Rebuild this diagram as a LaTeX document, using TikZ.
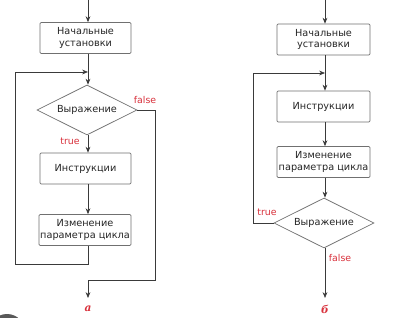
\documentclass[tikz,border=0pt]{standalone}
\usepackage{fontspec}
\setmainfont{DejaVu Sans}
\newfontfamily\serifcyr{DejaVu Serif}
\usetikzlibrary{shapes.geometric,arrows.meta}
\definecolor{lbl}{HTML}{D9313C}
\definecolor{ln}{HTML}{3A3A3A}
\definecolor{bx}{HTML}{707070}
\tikzset{
  every picture/.style={x=0.03cm,y=-0.03cm},
  box/.style={draw=bx,line width=0.6pt,rounded corners=1pt,minimum width=91*0.03cm,minimum height=31*0.03cm,inner sep=1pt,align=center,font=\fontsize{8.3}{10}\selectfont,text=black!85},
  cond/.style={draw=bx,line width=0.6pt,diamond,aspect=2,minimum width=100*0.03cm,minimum height=50*0.03cm,inner sep=0pt,font=\fontsize{8.3}{10}\selectfont,text=black!85},
  conn/.style={draw=ln,line width=0.6pt},
  arr/.style={conn,-{Stealth[length=5pt,width=4pt]}},
  tag/.style={text=lbl,font=\fontsize{8}{9}\selectfont,inner sep=1pt},
  figcap/.style={text=lbl,font=\serifcyr\bfseries\itshape\fontsize{9}{10}\selectfont,inner sep=0pt}
}
\begin{document}
\begin{tikzpicture}
\path[use as bounding box] (0,0) rectangle (397,318);
\fill[white] (0,0) rectangle (397,318);
\begin{scope}
\clip (0,0) rectangle (397,318);
\fill[black!65] (7,332) circle (18);
\end{scope}
% left diagram
\coordinate (La) at (88,0);
\node[box] (L1) at (85.5,38) {Начальные\\установки};
\coordinate (Ljoin) at (88,72);
\node[cond,minimum width=100*0.03cm] (Ld) at (87,110) {Выражение};
\node[box] (L2) at (85.5,168.5) {Инструкции};
\node[box] (L3) at (85,230) {Изменение\\параметра цикла};
\coordinate (Lr) at (155,110);
\coordinate (Lrb) at (155,280);
\coordinate (Lb) at (88,280);
\coordinate (Lend) at (88,298);
\coordinate (Ldn) at (88,264);
\coordinate (Lll) at (15,264);
\coordinate (Llu) at (15,72);
\draw[arr] (La) -- (L1.north -| La);
\draw[arr] (L1.south -| La) -- (Ld.north -| La);
\draw[arr] (Ld.south -| La) -- (L2.north -| La);
\draw[arr] (L2.south -| La) -- (L3.north -| La);
\draw[conn] (L3.south -| La) -- (Ldn) -- (Lll) -- (Llu);
\draw[arr] (Llu) -- (Ljoin);
\draw[conn] (Ld.east) -- (Lr) -- (Lrb) -- (Lb);
\draw[arr] (Lb) -- (Lend);
\node[tag] (Lf) at (145,100) {false};
\node[tag] (Lt) at (70,141) {true};
\node[figcap] (La1) at (88,309) {а};
% right diagram
\coordinate (Ra) at (325,0);
\node[box,minimum width=93*0.03cm] (R1) at (323.5,39.5) {Начальные\\установки};
\coordinate (Rjoin) at (325,73);
\node[box,minimum width=93*0.03cm] (R2) at (323.5,106.5) {Инструкции};
\node[box,minimum width=93*0.03cm] (R3) at (323.5,162) {Изменение\\параметра цикла};
\node[cond] (Rd) at (324,223) {Выражение};
\coordinate (Rl) at (253,223);
\coordinate (Rlu) at (253,73);
\coordinate (Rend) at (325,298);
\draw[arr] (Ra) -- (R1.north -| Ra);
\draw[arr] (R1.south -| Ra) -- (R2.north -| Ra);
\draw[arr] (R2.south -| Ra) -- (R3.north -| Ra);
\draw[arr] (R3.south -| Ra) -- (Rd.north -| Ra);
\draw[arr] (Rd.south -| Ra) -- (Rend);
\draw[conn] (Rd.west) -- (Rl) -- (Rlu);
\draw[arr] (Rlu) -- (Rjoin);
\node[tag] (Rt) at (267,212) {true};
\node[tag] (Rf) at (340,258) {false};
\node[figcap] (Rb1) at (325,309) {б};
\end{tikzpicture}
\end{document}
